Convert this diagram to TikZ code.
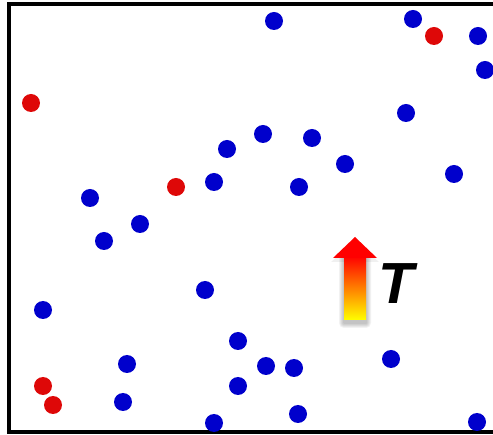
\documentclass[tikz,border=0pt]{standalone}
\usepackage{fontspec}
\setsansfont{Liberation Sans}

\definecolor{dotblue}{RGB}{0,0,204}
\definecolor{dotred}{RGB}{222,8,8}

\begin{document}
\begin{tikzpicture}[x=1pt,y=-1pt,
    bluedot/.style={circle,fill=dotblue,inner sep=0pt,minimum size=18pt},
    reddot/.style={circle,fill=dotred,inner sep=0pt,minimum size=18pt}]
        \useasboundingbox (0,0) rectangle (493,435);
        \coordinate (tr) at (495,4.5);
        \coordinate (tl) at (8.5,4.5);
        \coordinate (bl) at (8.5,432);
        \coordinate (br) at (495,432);
        \draw[line width=4pt] (tr) -- (tl) -- (bl) -- (br);
        \path
            (31, 103) node[reddot] (r1){}
            (176, 187) node[reddot] (r2){}
            (434, 36) node[reddot] (r3){}
            (43, 386) node[reddot] (r4){}
            (53, 405) node[reddot] (r5){}
            (274, 21) node[bluedot] (b1){}
            (413, 19) node[bluedot] (b2){}
            (478, 36) node[bluedot] (b3){}
            (485, 70) node[bluedot] (b4){}
            (406, 113) node[bluedot] (b5){}
            (227, 149) node[bluedot] (b6){}
            (263, 134) node[bluedot] (b7){}
            (312, 138) node[bluedot] (b8){}
            (345, 164) node[bluedot] (b9){}
            (454, 174) node[bluedot] (b10){}
            (214, 182) node[bluedot] (b11){}
            (299, 187) node[bluedot] (b12){}
            (90, 198) node[bluedot] (b13){}
            (140, 224) node[bluedot] (b14){}
            (104, 241) node[bluedot] (b15){}
            (205, 290) node[bluedot] (b16){}
            (43, 310) node[bluedot] (b17){}
            (238, 341) node[bluedot] (b18){}
            (127, 364) node[bluedot] (b19){}
            (266, 366) node[bluedot] (b20){}
            (294, 368) node[bluedot] (b21){}
            (391, 359) node[bluedot] (b22){}
            (238, 386) node[bluedot] (b23){}
            (123, 402) node[bluedot] (b24){}
            (298, 414) node[bluedot] (b25){}
            (214, 423) node[bluedot] (b26){}
            (477, 422) node[bluedot] (b27){};
        % temperature arrow, with a soft shadow
        \foreach \s in {1,...,5}
            \fill[black,opacity=0.05,rounded corners=\s pt]
                (344-\s,258-\s) rectangle (366+\s,323+\s);
        \fill[black,opacity=0.06] (331,262) -- (355,241) -- (379,262) -- cycle;
        \shade[top color=red,middle color=orange!90!red,bottom color=yellow]
            (344,256) rectangle (366,320);
        \fill[red] (333,258) -- (355,237) -- (377,258) -- cycle;
        \node[font=\sffamily\bfseries\itshape\fontsize{58}{60}\selectfont] (temp) at (396,284) {T};
\end{tikzpicture}
\end{document}
